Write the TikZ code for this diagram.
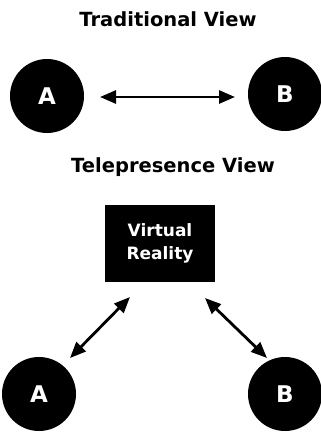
\documentclass[tikz,border=0pt]{standalone}
\usepackage{fontspec}
\setmainfont{DejaVu Sans}
\usetikzlibrary{arrows.meta}
\begin{document}
\begin{tikzpicture}[x=1pt,y=-1pt,
  person/.style={circle,fill=black,minimum size=74pt,inner sep=0pt,text=white,font=\bfseries\fontsize{23}{26}\selectfont},
  title/.style={font=\bfseries\fontsize{19.5}{22}\selectfont},
  vrbox/.style={fill=black,minimum width=110pt,minimum height=77pt,text=white,align=center,font=\bfseries\fontsize{17}{23}\selectfont},
  link/.style={line width=2.8pt,{Triangle[length=16pt,width=13pt]}-{Triangle[length=16pt,width=13pt]}}]
\useasboundingbox (0,0) rectangle (321,432);
\node[title] (t1) at (168,19) {Traditional View};
\node[person] (a1) at (47,96) {A};
\node[person] (b1) at (285,94) {B};
\coordinate (l1) at (100,97);
\coordinate (r1) at (235,97);
\draw[link] (l1) -- (r1);
\node[title] (t2) at (173,167) {Telepresence View};
\node[vrbox] (vr) at (160,243) {Virtual\\Reality};
\node[person] (a2) at (39,394) {A};
\node[person] (b2) at (285,394) {B};
\coordinate (vl) at (130,297);
\coordinate (al) at (70,358);
\coordinate (vr2) at (205,298);
\coordinate (br) at (267,358);
\draw[link] (vl) -- (al);
\draw[link] (vr2) -- (br);
\end{tikzpicture}
\end{document}
